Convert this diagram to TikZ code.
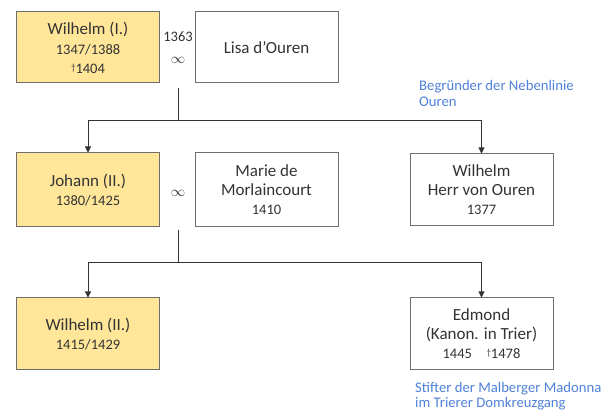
\documentclass[tikz,border=0pt]{standalone}
\usepackage{fontspec}
\setmainfont{Carlito}
\usetikzlibrary{arrows.meta}
\definecolor{boxyellow}{HTML}{FFE699}
\definecolor{boxborder}{HTML}{6E6E6E}
\definecolor{txtgray}{HTML}{333333}
\definecolor{noteblue}{HTML}{4F81D9}
\tikzset{
  person/.style={draw=boxborder, line width=1pt, minimum width=143pt, align=center,
    text=txtgray, font=\fontsize{17}{19}\selectfont, inner sep=0pt},
  mainline/.style={person, fill=boxyellow},
  note/.style={text=noteblue, font=\fontsize{14.7}{16}\selectfont, align=left, anchor=north west, inner sep=0pt},
  link/.style={draw=txtgray, line width=0.8pt},
  arr/.style={link, -{Triangle[length=6pt,width=6pt]}},
  marr/.style={text=txtgray, font=\fontsize{14.5}{15}\selectfont, inner sep=0pt}
}
\newcommand{\dt}[1]{{\fontsize{14.5}{18}\selectfont #1}}
\begin{document}
\begin{tikzpicture}[x=1pt,y=-1pt]
\useasboundingbox (0,0) rectangle (614,414);
\node[mainline, minimum height=71pt] (w1) at (88,47.5) {Wilhelm (I.)\\[1pt]\dt{1347/1388}\\\dt{\raisebox{3pt}{\fontsize{9}{9}\selectfont †}1404}};
\node[person, minimum height=71pt] (lisa) at (266.5,47.5) {Lisa d’Ouren};
\node[marr] (y1363) at (178,37) {1363};
\node[marr] (inf1) at (178,60) {$\infty$};

\node[mainline, minimum height=74pt] (joh) at (88,190) {Johann (II.)\\\dt{1380/1425}};
\node[person, minimum height=74pt] (marie) at (266.5,190) {Marie de\\Morlaincourt\\\dt{1410}};
\node[person, minimum height=72pt] (wh) at (481.5,190) {Wilhelm\\Herr von Ouren\\\dt{1377}};
\node[marr] (inf2) at (178,193) {$\infty$};

\node[mainline, minimum height=72pt] (w2) at (88,334) {Wilhelm (II.)\\\dt{1415/1429}};
\node[person, minimum height=72pt] (ed) at (481.5,334) {Edmond\\(Kanon. in Trier)\\\dt{1445\quad\raisebox{3pt}{\fontsize{9}{9}\selectfont †}1478}};

\node[note] (n1) at (419,80) {Begründer der Nebenlinie\\Ouren};
\node[note, font=\fontsize{14.7}{15}\selectfont] (n2) at (415,382) {Stifter der Malberger Madonna\\im Trierer Domkreuzgang};

\coordinate (m1) at (178,88);
\coordinate (j1) at (178,120);
\coordinate (m2) at (178,230);
\coordinate (j2) at (178,262);
\draw[link] (m1) -- (j1);
\draw[arr] (j1) -| (joh.north);
\draw[arr] (j1) -| (wh.north);
\draw[link] (m2) -- (j2);
\draw[arr] (j2) -| (w2.north);
\draw[arr] (j2) -| (ed.north);
\end{tikzpicture}
\end{document}
